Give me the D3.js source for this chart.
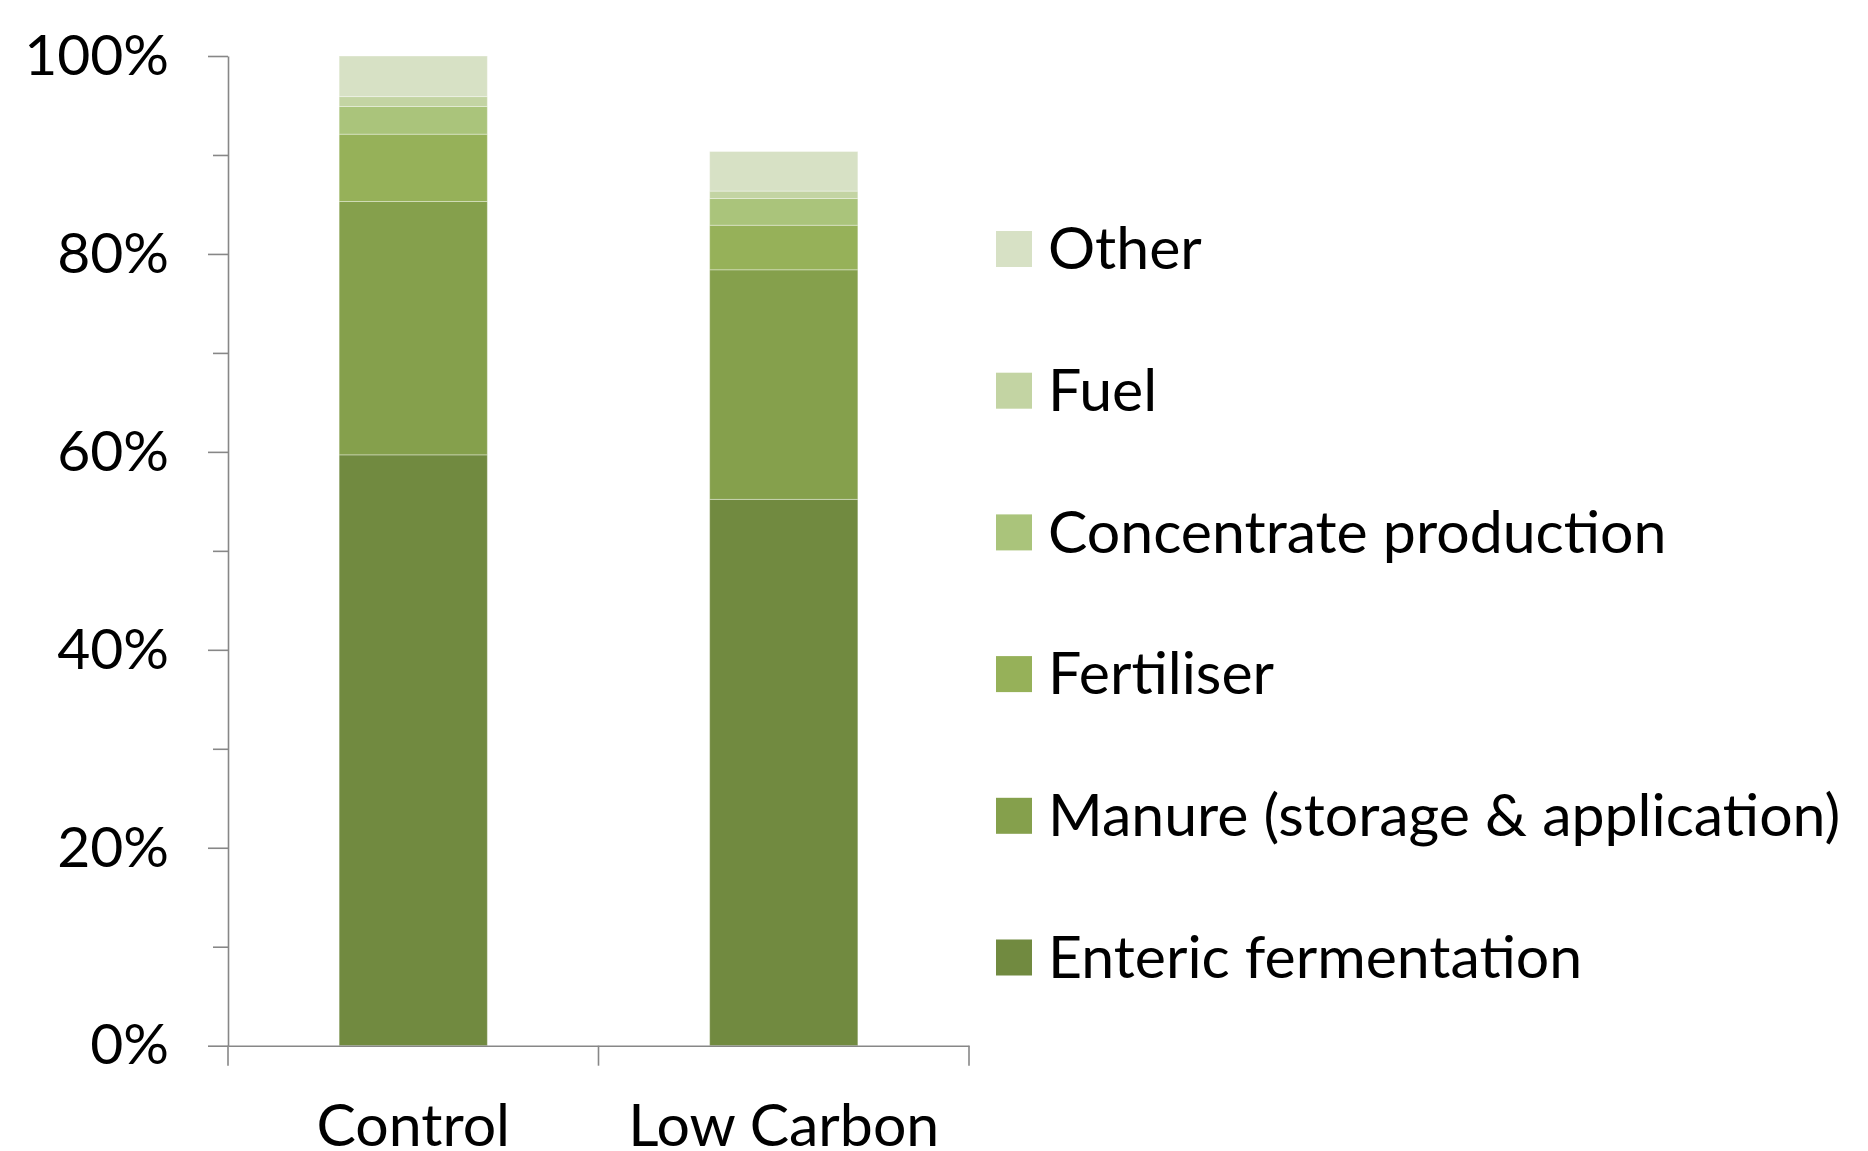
<!DOCTYPE html>
<html>
<head>
<meta charset="utf-8">
<script src="https://cdn.jsdelivr.net/npm/d3@7"></script>
<style>
  html, body { margin: 0; padding: 0; background: #ffffff; }
  svg { display: block; }
  text { font-family: Lato, "Open Sans", sans-serif; fill: #000000; }
</style>
</head>
<body>
<svg id="chart" width="1868" height="1151"></svg>
<script>
// ---- data ----
const categories = ["Control", "Low Carbon"];
const seriesNames = ["Enteric fermentation", "Manure (storage & application)", "Fertiliser", "Concentrate production", "Fuel", "Other"];
const entericFermentation = [59.7, 55.2];
const manure = [25.6, 23.2];
const fertiliser = [6.8, 4.5];
const concentrateProduction = [2.8, 2.7];
const fuel = [1.0, 0.75];
const other = [4.1, 4.0];
const yMajorTicks = [0, 20, 40, 60, 80, 100];
const yMinorTicks = [10, 30, 50, 70, 90];

// ---- styles ----
const seriesColors = ["#718a40", "#85a04c", "#96b159", "#aac47b", "#c3d4a3", "#d7e1c5"];
const axisColor = "#878787";
const yFontSize = 57;
const labelFontSize = 59;

const seriesValues = [entericFermentation, manure, fertiliser, concentrateProduction, fuel, other];
const table = categories.map((c, i) => {
  const row = { category: c };
  seriesNames.forEach((s, j) => { row[s] = seriesValues[j][i]; });
  return row;
});
const stacked = d3.stack().keys(seriesNames)(table);

const svg = d3.select("#chart");

const plotLeft = 228, plotRight = 969, plotTop = 56, plotBottom = 1045.7;
const y = d3.scaleLinear().domain([0, 100]).range([plotBottom, plotTop]);
const x = d3.scaleBand().domain(categories).range([plotLeft, plotRight]).padding(0);
const barW = x.bandwidth() * 0.4;
const color = d3.scaleOrdinal().domain(seriesNames).range(seriesColors);

// bars
svg.append("g").selectAll("g").data(stacked).join("g")
  .attr("fill", d => color(d.key))
  .selectAll("rect").data(d => d).join("rect")
  .attr("x", d => x(d.data.category) + (x.bandwidth() - barW) / 2)
  .attr("width", barW)
  .attr("y", d => y(d[1]))
  .attr("height", d => y(d[0]) - y(d[1]))
  .attr("stroke", "#ffffff")
  .attr("stroke-opacity", 0.35)
  .attr("stroke-width", 1);

// y axis minor ticks
const yMinor = svg.append("g").attr("transform", `translate(${plotLeft},0)`)
  .call(d3.axisLeft(y).tickValues(yMinorTicks).tickSize(15).tickSizeOuter(0).tickFormat(""));
yMinor.select(".domain").remove();

// y axis major
const yAxis = svg.append("g").attr("transform", `translate(${plotLeft},0)`)
  .call(d3.axisLeft(y).tickValues(yMajorTicks).tickSize(20).tickSizeOuter(0).tickPadding(39)
    .tickFormat(d => d + "%"));
yAxis.selectAll("text").style("font-size", yFontSize + "px").attr("fill", "#000");

svg.selectAll(".tick line").attr("stroke", axisColor).attr("stroke-width", 1.6);
yAxis.select(".domain").attr("stroke", axisColor).attr("stroke-width", 1.6);

// x axis
const xAxis = svg.append("g").attr("transform", `translate(0,${plotBottom})`)
  .call(d3.axisBottom(x).tickSize(0).tickSizeOuter(0).tickPadding(58));
xAxis.select(".domain").attr("stroke", axisColor).attr("stroke-width", 1.6);
xAxis.selectAll("text").style("font-size", labelFontSize + "px").attr("fill", "#000");

const boundaries = [x.range()[0]].concat(categories.map(c => x(c) + x.bandwidth()));
svg.append("g").selectAll("line").data(boundaries).join("line")
  .attr("x1", d => d).attr("x2", d => d)
  .attr("y1", plotBottom).attr("y2", plotBottom + 20)
  .attr("stroke", axisColor).attr("stroke-width", 1.6);

// legend
const legendNames = seriesNames.slice().reverse();
const legendTop = 249, legendStep = 141.7;
const legend = svg.append("g").selectAll("g").data(legendNames).join("g")
  .attr("transform", (d, i) => `translate(996,${legendTop + i * legendStep})`);
legend.append("rect")
  .attr("x", 0).attr("y", -18).attr("width", 36).attr("height", 36)
  .attr("fill", d => color(d));
legend.append("text")
  .attr("x", 52).attr("y", 0).attr("dy", "0.345em")
  .style("font-size", labelFontSize + "px")
  .text(d => d);
</script>
</body>
</html>
